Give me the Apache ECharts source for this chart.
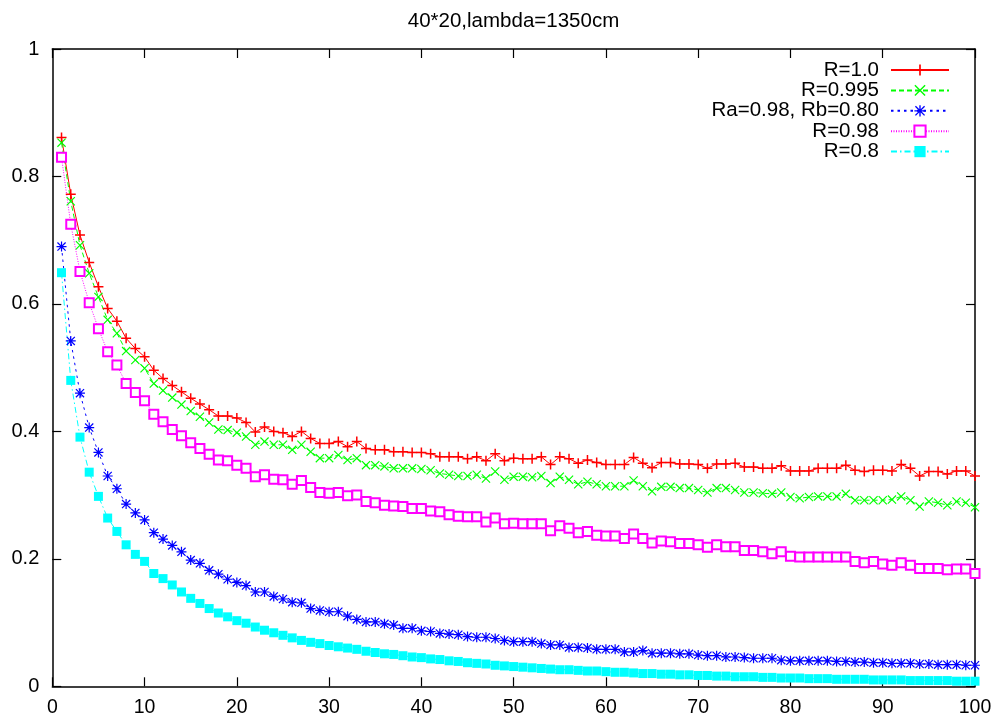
<!DOCTYPE html>
<html>
<head>
<meta charset="utf-8">
<script src="https://cdn.jsdelivr.net/npm/echarts@6/dist/echarts.min.js"></script>
<style>
html,body{margin:0;padding:0;background:#fff;}
#chart{width:1000px;height:722px;}
</style>
</head>
<body>
<div id="chart"></div>
<script>
const titleText = '40*20,lambda=1350cm';
const seriesNames = ['R=1.0', 'R=0.995', 'Ra=0.98, Rb=0.80', 'R=0.98', 'R=0.8'];
const xValues = [1,2,3,4,5,6,7,8,9,10,11,12,13,14,15,16,17,18,19,20,21,22,23,24,25,26,27,28,29,30,31,32,33,34,35,36,37,38,39,40,41,42,43,44,45,46,47,48,49,50,51,52,53,54,55,56,57,58,59,60,61,62,63,64,65,66,67,68,69,70,71,72,73,74,75,76,77,78,79,80,81,82,83,84,85,86,87,88,89,90,91,92,93,94,95,96,97,98,99,100];
const r100 = [0.861,0.772,0.708,0.665,0.627,0.593,0.573,0.546,0.530,0.517,0.496,0.483,0.472,0.462,0.452,0.443,0.434,0.424,0.424,0.421,0.414,0.399,0.407,0.400,0.398,0.392,0.400,0.389,0.381,0.381,0.384,0.376,0.384,0.373,0.371,0.371,0.368,0.368,0.367,0.367,0.365,0.360,0.360,0.360,0.357,0.360,0.354,0.365,0.354,0.358,0.357,0.357,0.360,0.348,0.360,0.357,0.350,0.355,0.351,0.348,0.348,0.348,0.359,0.350,0.343,0.351,0.351,0.349,0.349,0.348,0.342,0.349,0.349,0.350,0.344,0.344,0.342,0.342,0.346,0.338,0.338,0.338,0.342,0.342,0.342,0.347,0.339,0.337,0.339,0.339,0.338,0.348,0.342,0.330,0.337,0.337,0.333,0.338,0.338,0.330];
const r0995 = [0.853,0.761,0.692,0.648,0.611,0.575,0.554,0.526,0.512,0.499,0.475,0.464,0.453,0.442,0.432,0.423,0.414,0.403,0.402,0.398,0.392,0.379,0.384,0.379,0.379,0.371,0.379,0.368,0.358,0.358,0.363,0.355,0.358,0.347,0.347,0.345,0.342,0.342,0.342,0.341,0.339,0.334,0.332,0.330,0.330,0.332,0.326,0.337,0.324,0.329,0.329,0.328,0.330,0.319,0.329,0.324,0.317,0.321,0.317,0.314,0.314,0.314,0.323,0.314,0.306,0.313,0.313,0.311,0.311,0.308,0.304,0.311,0.311,0.308,0.304,0.304,0.303,0.302,0.304,0.297,0.295,0.297,0.298,0.298,0.298,0.302,0.292,0.292,0.292,0.292,0.293,0.298,0.292,0.282,0.290,0.288,0.284,0.290,0.288,0.281];
const rab = [0.690,0.542,0.460,0.406,0.367,0.330,0.310,0.286,0.272,0.261,0.241,0.231,0.221,0.211,0.198,0.193,0.182,0.176,0.168,0.163,0.158,0.148,0.148,0.141,0.137,0.132,0.131,0.122,0.119,0.117,0.117,0.110,0.105,0.101,0.101,0.098,0.096,0.091,0.091,0.087,0.086,0.083,0.082,0.081,0.078,0.077,0.077,0.075,0.072,0.070,0.070,0.070,0.067,0.065,0.065,0.061,0.061,0.060,0.058,0.058,0.058,0.054,0.054,0.056,0.052,0.052,0.052,0.051,0.051,0.049,0.048,0.048,0.046,0.046,0.045,0.044,0.044,0.044,0.041,0.040,0.040,0.040,0.040,0.040,0.039,0.039,0.038,0.038,0.037,0.037,0.036,0.036,0.036,0.035,0.035,0.034,0.034,0.034,0.033,0.033];
const r098 = [0.830,0.725,0.651,0.602,0.561,0.525,0.504,0.475,0.461,0.448,0.427,0.415,0.403,0.393,0.382,0.373,0.364,0.355,0.354,0.347,0.342,0.329,0.332,0.325,0.324,0.317,0.323,0.312,0.304,0.303,0.304,0.299,0.300,0.290,0.288,0.284,0.283,0.282,0.279,0.279,0.275,0.274,0.269,0.267,0.266,0.266,0.258,0.264,0.255,0.256,0.255,0.255,0.255,0.244,0.252,0.248,0.241,0.243,0.237,0.236,0.236,0.232,0.239,0.232,0.225,0.228,0.227,0.224,0.224,0.222,0.218,0.222,0.219,0.219,0.213,0.213,0.211,0.208,0.211,0.204,0.203,0.203,0.203,0.203,0.203,0.203,0.196,0.194,0.196,0.192,0.190,0.194,0.190,0.185,0.185,0.185,0.183,0.184,0.184,0.177];
const r080 = [0.649,0.480,0.391,0.336,0.298,0.264,0.243,0.222,0.207,0.196,0.177,0.169,0.159,0.148,0.138,0.130,0.122,0.115,0.109,0.103,0.099,0.093,0.088,0.084,0.080,0.076,0.072,0.069,0.067,0.064,0.062,0.060,0.058,0.055,0.053,0.051,0.050,0.048,0.046,0.045,0.043,0.042,0.040,0.039,0.037,0.036,0.035,0.033,0.032,0.031,0.030,0.029,0.028,0.027,0.026,0.026,0.025,0.024,0.024,0.023,0.022,0.022,0.021,0.020,0.020,0.019,0.019,0.018,0.018,0.017,0.017,0.016,0.016,0.015,0.015,0.015,0.014,0.014,0.013,0.013,0.013,0.012,0.012,0.012,0.011,0.011,0.011,0.011,0.010,0.010,0.010,0.010,0.009,0.009,0.009,0.009,0.009,0.008,0.008,0.008];

const FONT = 'Liberation Sans, Arial, Helvetica, sans-serif';
const plusPath = 'path://M0,4.25 L10,4.25 L10,5.75 L0,5.75 Z M4.25,0 L5.75,0 L5.75,10 L4.25,10 Z';
const crossPath = 'path://M0,0.9 L0.9,0 L10,9.1 L9.1,10 Z M0,9.1 L9.1,0 L10,0.9 L0.9,10 Z';
const starPath = 'path://M0,4.4 L10,4.4 L10,5.6 L0,5.6 Z M4.4,0 L5.6,0 L5.6,10 L4.4,10 Z M0.5,1.35 L1.35,0.5 L9.5,8.65 L8.65,9.5 Z M0.5,8.65 L8.65,0.5 L9.5,1.35 L1.35,9.5 Z';

function pairs(ys) { return xValues.map((x, i) => [x, ys[i]]); }

const chart = echarts.init(document.getElementById('chart'), null, {renderer: 'canvas'});

function mkSeries(name, ys, color, dash, symbol, size, itemExtra) {
  return {
    name: name,
    type: 'line',
    data: pairs(ys),
    xAxisIndex: 0,
    yAxisIndex: 0,
    symbol: symbol,
    symbolSize: size,
    showAllSymbol: true,
    lineStyle: {color: color, width: 1, type: dash},
    itemStyle: Object.assign({color: color, borderWidth: 0}, itemExtra || {}),
    emphasis: {disabled: true},
    z: 2
  };
}

const axisCommon = {
  type: 'value',
  splitLine: {show: false},
  axisLine: {show: true, onZero: false, lineStyle: {color: '#000', width: 1.5}},
  axisTick: {show: true, inside: true, length: 9, lineStyle: {color: '#000', width: 1.2}},
};

const option = {
  animation: false,
  backgroundColor: '#fff',
  title: {
    text: titleText,
    left: 508.5,
    textAlign: 'center',
    top: 6,
    textStyle: {fontFamily: FONT, fontSize: 20.5, fontWeight: 'normal', color: '#000'}
  },
  legend: {
    orient: 'vertical',
    align: 'right',
    right: 50,
    top: 59.5,
    padding: 0,
    itemWidth: 58,
    itemHeight: 14,
    itemGap: -0.6,
    selectedMode: false,
    textStyle: {fontFamily: FONT, fontSize: 20.5, lineHeight: 20, color: '#000', padding: [0, 7, 0, 0]},
    data: seriesNames
  },
  grid: {left: 52.3, right: 25, top: 49, bottom: 35.7, containLabel: false},
  xAxis: [
    Object.assign({}, axisCommon, {
      position: 'bottom', min: 0, max: 100, interval: 10,
      axisLabel: {show: true, margin: 11, fontFamily: FONT, fontSize: 19.5, color: '#000'}
    }),
    Object.assign({}, axisCommon, {
      position: 'top', min: 0, max: 100, interval: 10,
      axisLabel: {show: false}
    })
  ],
  yAxis: [
    Object.assign({}, axisCommon, {
      position: 'left', min: 0, max: 1, interval: 0.2,
      axisLabel: {show: true, margin: 13, fontFamily: FONT, fontSize: 20, color: '#000'}
    }),
    Object.assign({}, axisCommon, {
      position: 'right', min: 0, max: 1, interval: 0.2,
      axisLabel: {show: false}
    })
  ],
  series: [
    mkSeries(seriesNames[0], r100, '#ff0000', 'solid', plusPath, 10),
    mkSeries(seriesNames[1], r0995, '#00ff00', [5, 3], crossPath, 9),
    mkSeries(seriesNames[2], rab, '#0000ff', [2.5, 4], starPath, 10),
    mkSeries(seriesNames[3], r098, '#ff00ff', [1, 1.5], 'emptyRect', 9, {borderWidth: 1.2, borderColor: '#ff00ff'}),
    mkSeries(seriesNames[4], r080, '#00ffff', [6, 3, 1.5, 3], 'rect', 9)
  ]
};
chart.setOption(option);
</script>
</body>
</html>
